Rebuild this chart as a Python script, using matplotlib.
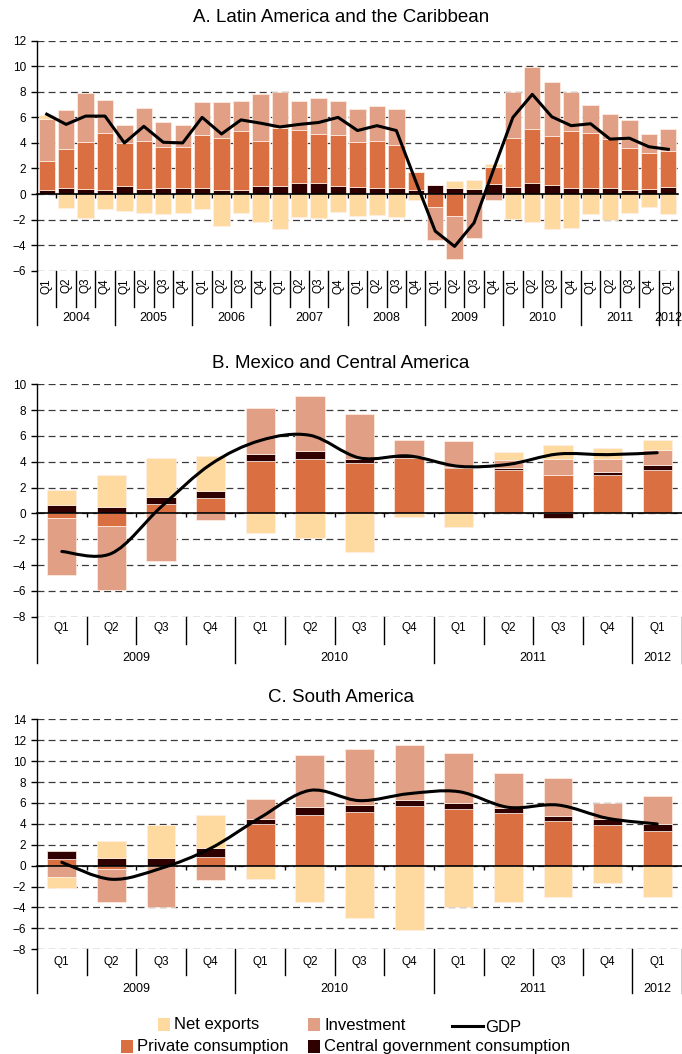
import numpy as np
import matplotlib
matplotlib.use('Agg')
import matplotlib.pyplot as plt
from matplotlib.path import Path
from matplotlib.patches import PathPatch, Rectangle
from matplotlib.lines import Line2D

plt.rcParams['font.family'] = ['Liberation Sans', 'DejaVu Sans']
plt.rcParams['lines.scale_dashes'] = False

W, H = 682, 1054

C_NX = '#FED9A0'
C_INV = '#E1A086'
C_PRIV = '#DA7042'
C_GOV = '#2E0000'

# --- A. Latin America and the Caribbean, 2004Q1-2012Q1 ---
years_a = ['2004', '2005', '2006', '2007', '2008', '2009', '2010', '2011', '2012']
nq_a = [4, 4, 4, 4, 4, 4, 4, 4, 1]
gov_a = [0.3, 0.5, 0.42, 0.3, 0.6, 0.4, 0.5, 0.45, 0.5, 0.35, 0.3, 0.65, 0.65, 0.9, 0.9, 0.65,
         0.57, 0.45, 0.5, 0.35, 0.7, 0.5, 0.4, 0.8, 0.52, 0.9, 0.68, 0.45, 0.45, 0.45, 0.35, 0.4, 0.52]
priv_a = [2.25, 3.0, 3.68, 4.5, 3.4, 3.75, 3.2, 3.2, 4.1, 4.0, 4.65, 3.5, 4.5, 4.1, 3.8, 3.95,
          3.48, 3.72, 3.35, 1.35, -1.0, -1.7, 0.0, 1.35, 3.85, 4.2, 3.9, 4.45, 4.3, 3.85, 3.22, 2.85, 2.88]
inv_a = [3.35, 3.1, 3.8, 2.55, 1.4, 2.6, 1.9, 1.75, 2.6, 2.85, 2.3, 3.65, 2.8, 2.3, 2.8, 2.7,
         2.62, 2.73, 2.82, 0.0, -2.6, -3.4, -3.45, -0.5, 3.63, 4.87, 4.17, 3.1, 2.23, 2.0, 2.23, 1.45, 1.68]
nx_a = [0.3, -1.1, -1.9, -1.2, -1.35, -1.5, -1.6, -1.45, -1.2, -2.5, -1.45, -2.2, -2.7, -1.8, -1.85, -1.4,
        -1.75, -1.65, -1.8, -0.45, 0.0, 0.55, 0.7, 0.2, -1.95, -2.2, -2.7, -2.63, -1.55, -2.05, -1.45, -1.0, -1.55]
gdp_a = [6.25, 5.45, 6.1, 6.1, 4.0, 5.3, 4.05, 4.0, 6.0, 4.7, 5.8, 5.55, 5.25, 5.45, 5.6, 6.0,
         4.97, 5.35, 4.97, 1.0, -2.9, -4.1, -2.25, 1.9, 6.0, 7.8, 6.05, 5.35, 5.5, 4.3, 4.37, 3.7, 3.5]

# --- B. Mexico and Central America, 2009Q1-2012Q1 ---
years_b = ['2009', '2010', '2011', '2012']
nq_b = [4, 4, 4, 1]
priv_b = [-0.36, -0.98, 0.72, 1.21, 4.05, 4.23, 3.9, 4.3, 3.55, 3.4, 2.94, 2.99, 3.38]
gov_b = [0.67, 0.52, 0.52, 0.49, 0.56, 0.59, 0.3, 0.15, 0.05, 0.13, -0.34, 0.21, 0.36]
inv_b = [-4.38, -4.95, -3.69, -0.54, 3.59, 4.25, 3.5, 1.22, 1.97, 0.62, 1.24, 1.05, 1.21]
nx_b = [1.11, 2.42, 3.04, 2.76, -1.55, -1.91, -3.02, -0.28, -1.06, 0.59, 1.15, 0.85, 0.72]
gdp_b = [-2.95, -3.1, 0.5, 3.8, 5.65, 6.05, 4.3, 4.45, 3.65, 3.8, 4.6, 4.55, 4.7]

# --- C. South America, 2009Q1-2012Q1 ---
priv_c = [0.6, -0.3, 0.0, 0.86, 3.95, 4.88, 5.13, 5.71, 5.42, 5.0, 4.27, 3.89, 3.32]
gov_c = [0.8, 0.7, 0.7, 0.86, 0.48, 0.7, 0.67, 0.54, 0.61, 0.55, 0.48, 0.57, 0.7]
inv_c = [-1.1, -3.2, -4.0, -1.37, 1.98, 5.01, 5.39, 5.25, 4.72, 3.28, 3.64, 1.53, 2.68]
nx_c = [-1.04, 1.66, 3.22, 3.08, -1.24, -3.44, -4.97, -6.19, -3.99, -3.5, -2.97, -1.66, -3.03]
gdp_c = [0.32, -1.3, -0.25, 1.66, 4.6, 7.2, 6.22, 6.89, 7.08, 5.58, 5.8, 4.53, 3.99]

quarter_names = ['Q1', 'Q2', 'Q3', 'Q4']


def smooth_path(x, y):
    # Catmull-Rom style cubic Bezier through the points
    pts = np.column_stack([x, y]).astype(float)
    n = len(pts)
    verts = [pts[0]]
    codes = [Path.MOVETO]
    for i in range(n - 1):
        p0 = pts[i - 1] if i > 0 else pts[i]
        p1, p2 = pts[i], pts[i + 1]
        p3 = pts[i + 2] if i + 2 < n else pts[i + 1]
        verts += [p1 + (p2 - p0) / 6, p2 - (p3 - p1) / 6, p2]
        codes += [Path.CURVE4] * 3
    return Path(verts, codes)


def fig_box(x0, y_top, x1, y_bot):
    return [x0 / W, 1 - y_bot / H, (x1 - x0) / W, (y_bot - y_top) / H]


def panel(box, comps, gdp, years, nq, ylim, ystep, width, smooth,
          qsep, ysep, qlab, ylab, rotate):
    ax = fig.add_axes(fig_box(*box))
    h_px = box[3] - box[1]
    n = len(gdp)
    x = np.arange(n)

    pos = np.zeros(n)
    neg = np.zeros(n)
    for vals, color in comps:
        vals = np.asarray(vals, dtype=float)
        bottom = np.where(vals >= 0, pos, neg)
        ax.bar(x, vals, width, bottom=bottom, color=color,
               edgecolor='#fff0e6', linewidth=0.5, zorder=2)
        pos += np.clip(vals, 0, None)
        neg += np.clip(vals, None, 0)

    if smooth:
        ax.add_patch(PathPatch(smooth_path(x, gdp), fill=False, lw=2.2,
                               ec='black', zorder=5, capstyle='round'))
    else:
        ax.plot(x, gdp, color='black', lw=2.2, zorder=5)

    ax.set_xlim(-0.5, n - 0.5)
    ax.set_ylim(*ylim)
    ax.set_yticks(np.arange(ylim[0], ylim[1] + 0.1, ystep))
    ax.yaxis.grid(True, linestyle=(0, (5, 3)), color='#3a3a3a', lw=0.9)
    ax.set_axisbelow(True)
    for s in ['top', 'right']:
        ax.spines[s].set_visible(False)
    ax.spines['left'].set_linewidth(1.0)
    ax.spines['bottom'].set_position(('data', 0))
    ax.spines['bottom'].set_linewidth(1.2)
    ax.spines['bottom'].set_zorder(4)
    ax.set_xticks(np.arange(n - 1) + 0.5)
    ax.tick_params(axis='x', length=3, width=1, labelbottom=False)
    ax.tick_params(axis='y', length=4, width=1, labelsize=8.5, pad=4)

    # category axis drawn under the plot area
    tr = ax.get_xaxis_transform()
    f = 1.0 / h_px
    bounds = np.cumsum([0] + nq) - 0.5
    for b in np.arange(n - 1) + 0.5:
        if b not in bounds:
            ax.add_line(Line2D([b, b], [0, -qsep * f], transform=tr,
                               color='black', lw=1, clip_on=False))
    for b in bounds:
        ax.add_line(Line2D([b, b], [0, -ysep * f], transform=tr,
                           color='black', lw=1, clip_on=False))
    for i in range(n):
        ax.text(i, -qlab * f, quarter_names[i % 4], transform=tr,
                ha='center', va='center', fontsize=8.5,
                rotation=90 if rotate else 0)
    for k, yr in enumerate(years):
        ax.text((bounds[k] + bounds[k + 1]) / 2, -ylab * f, yr, transform=tr,
                ha='center', va='center', fontsize=9)
    return ax


fig = plt.figure(figsize=(W / 100, H / 100), dpi=100)

panel((37, 40.7, 678, 270.7),
      [(gov_a, C_GOV), (priv_a, C_PRIV), (inv_a, C_INV), (nx_a, C_NX)],
      gdp_a, years_a, nq_a, (-6, 12), 2, 0.84, False,
      36, 54, 15, 47, True)
panel((37, 384.3, 682, 616.7),
      [(priv_b, C_PRIV), (gov_b, C_GOV), (inv_b, C_INV), (nx_b, C_NX)],
      gdp_b, years_b, nq_b, (-8, 10), 2, 0.59, True,
      27, 46, 11.5, 41.5, False)
panel((37, 719.3, 682, 949.3),
      [(priv_c, C_PRIV), (gov_c, C_GOV), (inv_c, C_INV), (nx_c, C_NX)],
      gdp_c, years_b, nq_b, (-8, 14), 2, 0.58, True,
      26, 44, 13, 40, False)

fig.text(0.5, 1 - 18 / H, 'A. Latin America and the Caribbean', ha='center', va='center', fontsize=13.5)
fig.text(0.5, 1 - 364 / H, 'B. Mexico and Central America', ha='center', va='center', fontsize=13.5)
fig.text(0.5, 1 - 697 / H, 'C. South America', ha='center', va='center', fontsize=13.5)

# legend
def legend_box(x, y, color, label):
    fig.add_artist(Rectangle((x / W, 1 - (y + 13) / H), 12 / W, 13 / H,
                             transform=fig.transFigure, color=color, lw=0))
    fig.text((x + 16) / W, 1 - (y + 7) / H, label, ha='left', va='center', fontsize=12)

legend_box(158, 1018, C_NX, 'Net exports')
legend_box(308, 1018, C_INV, 'Investment')
legend_box(121, 1040, C_PRIV, 'Private consumption')
legend_box(308, 1040, C_GOV, 'Central government consumption')
fig.add_artist(Line2D([452 / W, 483 / W], [1 - 1026 / H] * 2, transform=fig.transFigure,
                      color='black', lw=2.2))
fig.text(485 / W, 1 - 1028 / H, 'GDP', ha='left', va='center', fontsize=12)

fig.savefig('out.png', dpi=100, facecolor='white')
